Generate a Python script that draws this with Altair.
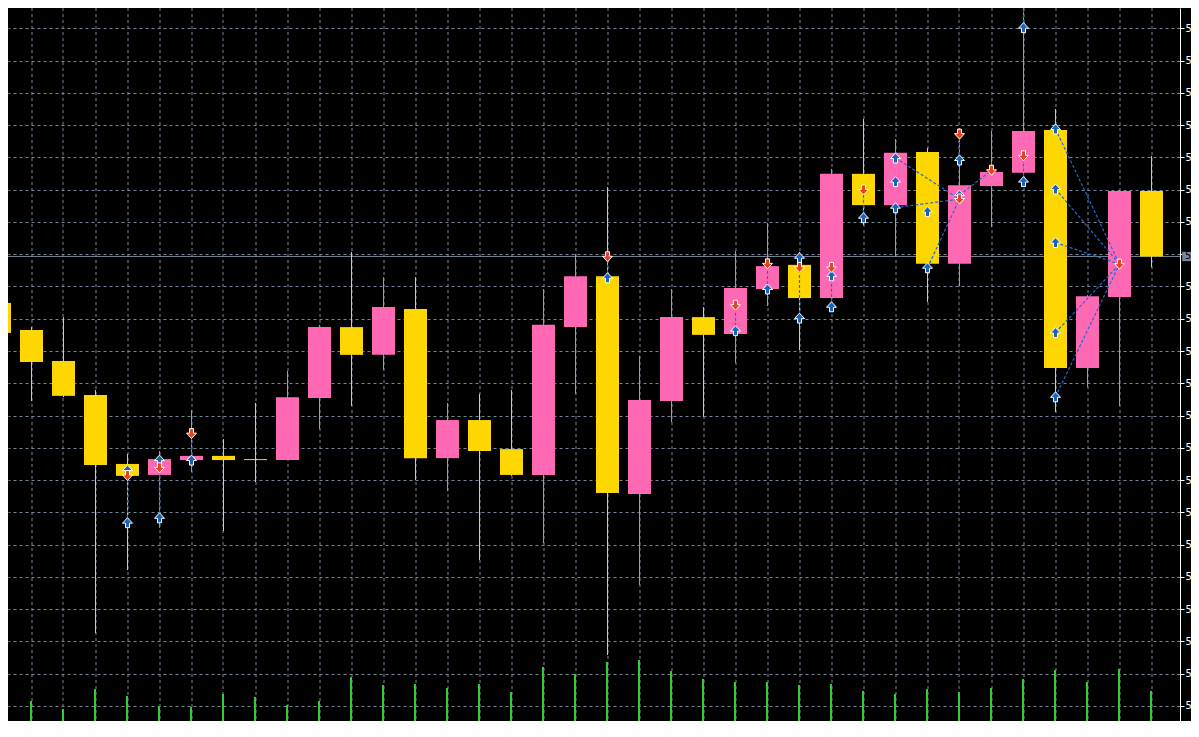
import altair as alt
import pandas as pd

# ---------------- data ----------------
bar_index = list(range(37))
opens = [5.25349, 5.25265, 5.25169, 5.25064, 5.24850, 5.24816, 5.24862, 5.24875, 5.24865, 5.24862,
         5.25054, 5.25274, 5.25188, 5.25330, 5.24868, 5.24986, 5.24896, 5.24816, 5.25274, 5.25432,
         5.24757, 5.25045, 5.25305, 5.25253, 5.25392, 5.25467, 5.25364, 5.25749, 5.25652, 5.25817,
         5.25470, 5.25711, 5.25752, 5.25885, 5.25147, 5.25367, 5.25696]
highs = [5.25364, 5.25274, 5.25305, 5.25079, 5.24881, 5.24890, 5.25017, 5.24927, 5.25039, 5.25138,
         5.25281, 5.25507, 5.25429, 5.25429, 5.25039, 5.25067, 5.25079, 5.25392, 5.25501, 5.25708,
         5.25185, 5.25392, 5.25336, 5.25510, 5.25597, 5.25507, 5.25764, 5.25919, 5.25857, 5.25829,
         5.25891, 5.25882, 5.26288, 5.25950, 5.25374, 5.25699, 5.25804]
lows = [5.25234, 5.25045, 5.25057, 5.24326, 5.24521, 5.24652, 5.24825, 5.24642, 5.24794, 5.24862,
        5.24958, 5.25030, 5.25141, 5.24800, 5.24766, 5.24552, 5.24813, 5.24605, 5.25067, 5.24258,
        5.24475, 5.24980, 5.24996, 5.25163, 5.25339, 5.25203, 5.25327, 5.25590, 5.25494, 5.25352,
        5.25401, 5.25584, 5.25711, 5.25011, 5.25088, 5.25030, 5.25460]
closes = [5.25256, 5.25166, 5.25061, 5.24847, 5.24813, 5.24865, 5.24875, 5.24862, 5.24862, 5.25057,
          5.25274, 5.25188, 5.25336, 5.24868, 5.24986, 5.24890, 5.24816, 5.25281, 5.25432, 5.24760,
          5.25048, 5.25305, 5.25250, 5.25395, 5.25463, 5.25364, 5.25749, 5.25652, 5.25814, 5.25470,
          5.25714, 5.25755, 5.25882, 5.25147, 5.25370, 5.25696, 5.25493]
volumes = [875, 900, 700, 1200, 1025, 775, 750, 1075, 1000, 800,
           900, 1500, 1300, 1325, 1225, 1325, 1125, 1750, 1575, 1875,
           1925, 1650, 1450, 1375, 1375, 1300, 1325, 1150, 1075, 1200,
           1125, 1225, 1450, 1675, 1375, 1700, 1150]

buy_bars = [4, 4, 5, 5, 6, 19, 23, 24, 25, 25, 26, 26, 27, 28, 28, 28, 29, 29, 30, 30,
            32, 32, 33, 33, 33, 33, 33]
buy_prices = [5.24831, 5.24668, 5.24862, 5.24683, 5.24862, 5.25427, 5.25263, 5.25392, 5.25489, 5.25302,
              5.25433, 5.25337, 5.25613, 5.25798, 5.25725, 5.25644, 5.25632, 5.25458, 5.25792, 5.25683,
              5.26202, 5.25725, 5.25888, 5.25702, 5.25536, 5.25257, 5.25058]
sell_bars = [4, 5, 6, 19, 23, 24, 25, 26, 27, 30, 30, 31, 32, 32, 35]
sell_prices = [5.24814, 5.24838, 5.24944, 5.25492, 5.25342, 5.25470, 5.25459, 5.25459, 5.25699,
               5.25872, 5.25671, 5.25760, 5.26282, 5.25805, 5.25469]

trade_open_bar = [4, 5, 6, 19, 23, 24, 25, 26, 27, 28, 28, 29, 30, 30, 32, 32, 33, 33, 33, 33, 33]
trade_open_price = [5.24668, 5.24683, 5.24862, 5.25427, 5.25263, 5.25392, 5.25302, 5.25337, 5.25613,
                    5.25798, 5.25644, 5.25458, 5.25683, 5.25792, 5.26202, 5.25725,
                    5.25888, 5.25702, 5.25536, 5.25257, 5.25058]
trade_close_bar = [4, 5, 6, 19, 23, 24, 25, 26, 27, 30, 30, 30, 31, 30, 32, 32, 35, 35, 35, 35, 35]
trade_close_price = [5.24814, 5.24838, 5.24944, 5.25492, 5.25342, 5.25470, 5.25459, 5.25459, 5.25699,
                     5.25671, 5.25671, 5.25671, 5.25760, 5.25872, 5.26282, 5.25805,
                     5.25469, 5.25469, 5.25469, 5.25469, 5.25469]

grid_prices = [round(5.2620 - 0.001 * k, 4) for k in range(22)]
grid_bars = list(range(38))

# ---------------- layout / styles ----------------
W, H = 1172, 713
PX_PER_UNIT = 32270.0          # pixels per 1.0 of price
TOP_PRICE = 5.2620 + 20.3 / PX_PER_UNIT
BOTTOM_PRICE = TOP_PRICE - H / PX_PER_UNIT
X_LO = 8.5 / 32.0
X_HI = X_LO + W / 32.0

GRID = "#778899"
BULL = "#FF69B4"
BEAR = "#FFD700"
VOL = "#32CD32"
BUY = "#1565C0"
SELL = "#E8421E"
LINE = "#1E6AD0"

UP_ARROW = "M0,-1 L1,0.1 L0.4,0.1 L0.4,1 L-0.4,1 L-0.4,0.1 L-1,0.1 Z"
DOWN_ARROW = "M0,1 L1,-0.1 L0.4,-0.1 L0.4,-1 L-0.4,-1 L-0.4,-0.1 L-1,-0.1 Z"

candles = pd.DataFrame({"i": bar_index, "open": opens, "high": highs, "low": lows, "close": closes})
candles["dir"] = ["down" if c < o else "up" for o, c in zip(opens, closes)]
vol_df = pd.DataFrame({"i": bar_index, "volume": volumes})
buy_df = pd.DataFrame({"bar": buy_bars, "price": buy_prices})
sell_df = pd.DataFrame({"bar": sell_bars, "price": sell_prices})
seg_df = pd.DataFrame({"ob": trade_open_bar, "op": trade_open_price,
                       "cb": trade_close_bar, "cp": trade_close_price})
bid_df = pd.DataFrame({"price": [closes[-1]], "label": [f"{closes[-1]:.5f}"]})

xscale = alt.Scale(domain=[X_LO, X_HI], nice=False, zero=False, padding=0)
xaxis = alt.Axis(values=grid_bars, grid=True, gridColor=GRID, gridDash=[3, 3], gridWidth=1,
                 labels=False, ticks=False, domain=False, title=None, translate=0)
yscale = alt.Scale(domain=[BOTTOM_PRICE, TOP_PRICE], nice=False, zero=False, padding=0)
yaxis = alt.Axis(orient="right", values=grid_prices, format=".4f", grid=True, gridColor=GRID,
                 gridDash=[3, 3], gridWidth=1, domain=True, domainColor="white", domainWidth=1,
                 ticks=True, tickColor="white", tickSize=4, labelColor="white",
                 labelFont="DejaVu Sans", labelFontSize=10, labelPadding=1,
                 labelFlush=False, labelOverlap=False, title=None,
                 labelExpr=f"abs(datum.value - {closes[-1]}) < 0.0005 ? '' : datum.label")


def X(field):
    return alt.X(field, type="quantitative", scale=xscale, axis=xaxis)


def Y(field):
    return alt.Y(field, type="quantitative", scale=yscale, axis=yaxis)


color = alt.Color("dir:N", scale=alt.Scale(domain=["up", "down"], range=[BULL, BEAR]), legend=None)

volume_layer = alt.Chart(vol_df).mark_rule(strokeWidth=2, xOffset=-0.5, color=VOL).encode(
    x=X("i"),
    y=alt.Y("volume:Q", scale=alt.Scale(domain=[400, 18225], nice=False, zero=False), axis=None),
    y2=alt.value(H),
)

bid_line = alt.Chart(bid_df).mark_rule(color=GRID, strokeWidth=1).encode(y=Y("price"))
wicks = alt.Chart(candles).mark_rule(strokeWidth=1).encode(x=X("i"), y=Y("low"), y2="high", color=color)
bodies = alt.Chart(candles).mark_bar(size=23, orient="vertical").encode(
    x=X("i"), y=Y("open"), y2="close", color=color)
segments = alt.Chart(seg_df).mark_rule(color=LINE, strokeDash=[3, 2], strokeWidth=1.2).encode(
    x=X("ob"), x2="cb", y=Y("op"), y2="cp")
buys = alt.Chart(buy_df).mark_point(shape=UP_ARROW, size=100, filled=True, fill=BUY, stroke="white",
                                    strokeWidth=1, opacity=1).encode(x=X("bar"), y=Y("price"))
sells = alt.Chart(sell_df).mark_point(shape=DOWN_ARROW, size=100, filled=True, fill=SELL, stroke="white",
                                      strokeWidth=1, opacity=1).encode(x=X("bar"), y=Y("price"))
label_box = alt.Chart(bid_df).mark_point(shape="square", size=90, filled=True, fill=GRID,
                                         opacity=1).encode(x=alt.value(W + 7), y=Y("price"))
label_text = alt.Chart(bid_df).mark_text(align="left", baseline="middle", fontSize=10,
                                         font="DejaVu Sans", color="black").encode(
    x=alt.value(W + 5), y=Y("price"), text="label:N")

price_layer = alt.layer(bid_line, wicks, bodies, segments, buys, sells, label_box, label_text)

chart = (
    alt.layer(volume_layer, price_layer)
    .resolve_scale(y="independent")
    .properties(width=W, height=H, background="black",
                autosize=alt.AutoSizeParams(type="none"),
                padding={"left": 0, "top": 0, "right": 11, "bottom": 0})
    .configure_view(strokeWidth=0)
)

chart.save("out.html", embed_options={"renderer": "svg", "actions": False})
